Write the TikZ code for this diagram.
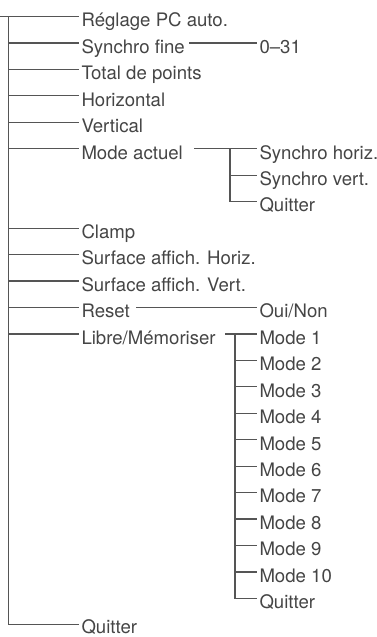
\documentclass[tikz,border=0pt]{standalone}
\usepackage{fontspec}
\setmainfont{TeX Gyre Heros}
\definecolor{linec}{HTML}{555555}
\definecolor{textc}{HTML}{454545}
\tikzset{
  lbl/.style={anchor=base west, inner sep=0pt, outer xsep=2.5pt, outer ysep=0pt,
    text=textc, font=\fontsize{18.6}{19}\selectfont},
  conn/.style={draw=linec, line width=1.2pt}
}
\def\ry#1{-16.5-26.45*#1}
\def\bo{10.3}
\begin{document}
\begin{tikzpicture}[x=1pt,y=1pt]
\useasboundingbox (0,0) rectangle (377,-637);
% main level
\foreach \k/\t in {0/{Réglage PC auto.},1/{Synchro fine},2/{Total de points},3/{Horizontal},4/{Vertical},5/{Mode actuel},8/{Clamp},9/{Surface affich. Horiz.},10/{Surface affich. Vert.},11/{Reset},12/{Libre/Mémoriser}}{
  \node[lbl] (r\k) at (79,{\ry{\k}-\bo}) {\t};
  \coordinate (j\k) at (8.5,{\ry{\k}});
}
\coordinate (j23) at (8.5,{\ry{23}});
\node[lbl] (r23) at (79,{\ry{23}-8.5}) {Quitter};
\coordinate (top) at (0,{\ry{0}});
\draw[conn] (top) -- (top -| r0.west);
\draw[conn] (j0) -- (j23) -- (j23 -| r23.west);
\foreach \k in {1,2,3,4,5,8,9,10,11,12}{
  \draw[conn] (j\k) -- (j\k -| r\k.west);
}
% Synchro fine
\node[lbl] (s1) at (257,{\ry{1}-\bo}) {0–31};
\coordinate (c1) at (189,{\ry{1}});
\draw[conn] (c1) -- (c1 -| s1.west);
% Mode actuel
\node[lbl] (a5) at (257,{\ry{5}-\bo}) {Synchro horiz.};
\node[lbl] (a6) at (257,{\ry{6}-\bo}) {Synchro vert.};
\node[lbl] (a7) at (257,{\ry{7}-\bo}) {Quitter};
\coordinate (c5) at (194,{\ry{5}});
\coordinate (v5) at (230,{\ry{5}});
\coordinate (v6) at (230,{\ry{6}});
\coordinate (v7) at (230,{\ry{7}});
\draw[conn] (c5) -- (c5 -| a5.west);
\draw[conn] (v5) -- (v7) -- (v7 -| a7.west);
\draw[conn] (v6) -- (v6 -| a6.west);
% Reset
\node[lbl] (s11) at (257,{\ry{11}-\bo}) {Oui/Non};
\coordinate (c11) at (136,{\ry{11}});
\draw[conn] (c11) -- (c11 -| s11.west);
% Libre/Memoriser
\foreach \i in {1,...,10}{
  \pgfmathtruncatemacro\k{11+\i}
  \node[lbl] (m\k) at (257,{\ry{\k}-\bo}) {Mode \i};
  \coordinate (v\k) at (235,{\ry{\k}});
}
\node[lbl] (m22) at (257,{\ry{22}-\bo}) {Quitter};
\coordinate (v22) at (235,{\ry{22}});
\coordinate (c12) at (225,{\ry{12}});
\draw[conn] (c12) -- (c12 -| m12.west);
\draw[conn] (v12) -- (v22) -- (v22 -| m22.west);
\foreach \k in {13,...,21}{
  \draw[conn] (v\k) -- (v\k -| m\k.west);
}
\end{tikzpicture}
\end{document}
